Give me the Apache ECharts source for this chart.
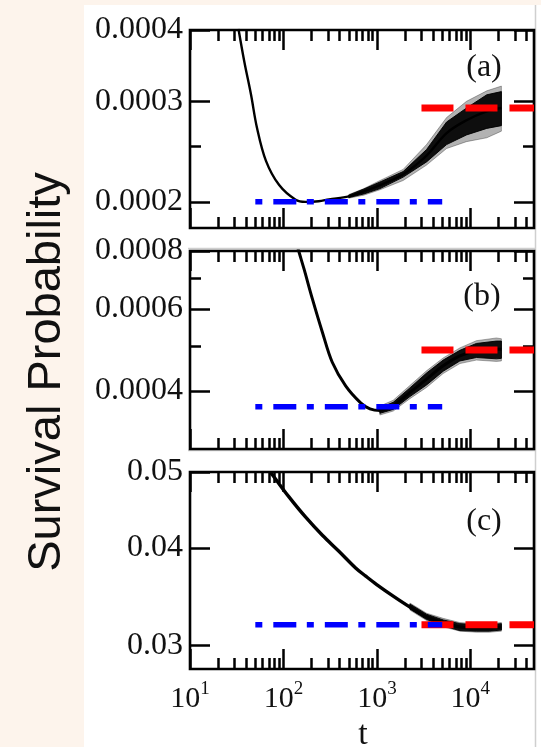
<!DOCTYPE html>
<html>
<head>
<meta charset="utf-8">
<script src="https://cdn.jsdelivr.net/npm/echarts@6/dist/echarts.min.js"></script>
<style>
  html, body { margin: 0; padding: 0; background: #fdf4ec; }
  #chart { width: 541px; height: 747px; }
</style>
</head>
<body>
<div id="chart"></div>
<script>
// ---- shared time axis ----
const X_MIN = 10, X_MAX = 48000;
const xMajorTicks = [10, 100, 1000, 10000];
const xMinorTicks = [20, 30, 40, 50, 60, 70, 80, 90,
  200, 300, 400, 500, 600, 700, 800, 900,
  2000, 3000, 4000, 5000, 6000, 7000, 8000, 9000,
  20000, 30000, 40000];

// ---- panel (a) ----
const yRangeA = [0.00018, 0.0004];
const yMajorA = [0.0002, 0.0003, 0.0004];
const yMinorA = [0.00025];
const tA   = [33, 38, 45, 52, 65, 90, 135, 172, 238, 307, 500, 725, 1080, 1910, 3400, 5570, 9100, 15000, 21500];
const midA = [0.000402, 0.000353, 0.000308, 0.00027, 0.000236, 0.000214, 0.0002017, 0.0002, 0.0002005, 0.000202,
              0.0002045, 0.0002087, 0.000214, 0.0002235, 0.000241, 0.000264, 0.000278, 0.000288, 0.000292];
const bandTA   = [500, 725, 1080, 1910, 3400, 5570, 9100, 15000, 21500];
const coreLoA  = [0.0002035, 0.0002065, 0.000211, 0.000221, 0.000235, 0.000252, 0.000262, 0.000269, 0.000272];
const coreHiA  = [0.0002055, 0.0002106, 0.0002167, 0.000226, 0.000247, 0.000276, 0.000292, 0.000308, 0.000312];
const cloudLoA = [0.000203, 0.0002055, 0.00021, 0.000218, 0.000232, 0.000248, 0.000255, 0.000259, 0.000266];
const cloudHiA = [0.000206, 0.000211, 0.000218, 0.000228, 0.000252, 0.000281, 0.0003, 0.000313, 0.000319];
const redA = 0.000292, blueA = 0.0002;

// ---- panel (b) ----
const yRangeB = [0.0003, 0.0008];
const yMajorB = [0.0004, 0.0006, 0.0008];
const yMinorB = [0.0005, 0.0007];
const tB   = [140, 147, 166, 204, 261, 333, 463, 670, 843, 1076, 1495, 2256, 3400, 5120, 7720, 11600, 19000, 21500];
const midB = [0.000823, 0.000795, 0.000732, 0.000631, 0.000535, 0.000461, 0.00041, 0.000377, 0.000366, 0.000363,
              0.000372, 0.000397, 0.000424, 0.000453, 0.000476, 0.000488, 0.000492, 0.000492];
const bandTB   = [1076, 1495, 2256, 3400, 5120, 7720, 11600, 19000, 21500];
const coreLoB  = [0.000358, 0.000365, 0.000389, 0.000412, 0.000441, 0.000464, 0.000472, 0.000469, 0.00047];
const coreHiB  = [0.000368, 0.000378, 0.000406, 0.000437, 0.000466, 0.000489, 0.000506, 0.000512, 0.000512];
const cloudLoB = [0.000355, 0.000362, 0.000385, 0.000407, 0.000436, 0.000458, 0.000466, 0.000463, 0.000464];
const cloudHiB = [0.000371, 0.000382, 0.000411, 0.000442, 0.000471, 0.000495, 0.000513, 0.00052, 0.000518];
const redB = 0.00049, blueB = 0.00037;

// ---- panel (c) ----
const yRangeC = [0.028, 0.05];
const yMajorC = [0.03, 0.04, 0.05];
const yMinorC = [];
const tC   = [72, 79, 114, 172, 261, 392, 592, 760, 995, 1495, 2256, 3400, 5120, 7720, 11600, 16000, 21500];
const midC = [0.0500, 0.0493, 0.0465, 0.0438, 0.0415, 0.0396, 0.0377, 0.0368, 0.0359, 0.0347, 0.0336,
              0.03266, 0.0321, 0.0317, 0.0316, 0.0316, 0.0317];
const bandTC   = [2256, 3400, 5120, 7720, 11600, 16000, 21500];
const coreLoC  = [0.0334, 0.0324, 0.0318, 0.03135, 0.0313, 0.0313, 0.0314];
const coreHiC  = [0.0339, 0.0329, 0.03235, 0.032, 0.0319, 0.0319, 0.032];
const cloudLoC = [0.0333, 0.0323, 0.0317, 0.0313, 0.0312, 0.0312, 0.0313];
const cloudHiC = [0.034, 0.033, 0.0325, 0.0321, 0.032, 0.032, 0.0321];
const redC = 0.0319, blueC = 0.0319;

// horizontal reference lines: time spans
const redSpan  = [3000, X_MAX];
const blueSpan = [50, 5000];

const panelTags = ['(a)', '(b)', '(c)'];

const panels = [
  { t: tA, mid: midA, bt: bandTA, lo: coreLoA, hi: coreHiA, olo: cloudLoA, ohi: cloudHiA,
    red: redA, blue: blueA, range: yRangeA, major: yMajorA, minor: yMinorA, dec: 4, lw: 2.4 },
  { t: tB, mid: midB, bt: bandTB, lo: coreLoB, hi: coreHiB, olo: cloudLoB, ohi: cloudHiB,
    red: redB, blue: blueB, range: yRangeB, major: yMajorB, minor: yMinorB, dec: 4, lw: 3 },
  { t: tC, mid: midC, bt: bandTC, lo: coreLoC, hi: coreHiC, olo: cloudLoC, ohi: cloudHiC,
    red: redC, blue: blueC, range: yRangeC, major: yMajorC, minor: yMinorC, dec: 2, lw: 3.4 }
];

// ---- layout ----
const GRID_LEFT = 190, GRID_WIDTH = 344;
const gridTops = [30, 251, 472];
const gridHeights = [198, 198, 197];
const MAJOR_LEN = 20, MINOR_LEN = 11, TICK_W = 2.5;
const SERIF = '"Liberation Serif", "DejaVu Serif", serif';
const INK = '#111';

const zip = (a, b) => a.map((v, i) => [v, b[i]]);

function tickAxis(base, position, values, len) {
  return Object.assign({}, base, {
    position: position,
    axisLine: { show: false },
    splitLine: { show: false },
    axisLabel: { show: false },
    axisTick: {
      show: values.length > 0, inside: true, length: len,
      customValues: values.length ? values : undefined,
      lineStyle: { color: '#000', width: TICK_W }
    }
  });
}

// Filled region between a lower and an upper envelope, placed through the axes.
function bandSeries(gi, tArr, loArr, hiArr, fill) {
  return {
    type: 'custom', xAxisIndex: gi * 4, yAxisIndex: gi * 4, silent: true, clip: true,
    data: tArr.map((t, i) => [t, loArr[i], hiArr[i]]),
    encode: { x: 0, y: [1, 2] },
    renderItem: function (params, api) {
      if (params.dataIndex !== 0) return null;
      const pts = [];
      for (let i = 0; i < tArr.length; i++) pts.push(api.coord([tArr[i], loArr[i]]));
      for (let i = tArr.length - 1; i >= 0; i--) pts.push(api.coord([tArr[i], hiArr[i]]));
      return { type: 'polygon', shape: { points: pts }, style: { fill: fill, stroke: fill, lineWidth: 1 } };
    }
  };
}

const grids = [], xAxes = [], yAxes = [], series = [];

panels.forEach((p, gi) => {
  grids.push({
    left: GRID_LEFT, top: gridTops[gi], width: GRID_WIDTH, height: gridHeights[gi],
    show: true, borderColor: '#000', borderWidth: 2.6, backgroundColor: 'transparent',
    outerBoundsMode: 'none', containLabel: false
  });

  const xb = { type: 'log', logBase: 10, min: X_MIN, max: X_MAX, gridIndex: gi };
  const xMain = tickAxis(xb, 'bottom', xMajorTicks, MAJOR_LEN);
  if (gi === 2) {
    xMain.axisLabel = {
      show: true, customValues: xMajorTicks, margin: 11,
      formatter: v => '10{s|' + Math.round(Math.log10(v)) + '}',
      fontFamily: SERIF, fontSize: 30, color: INK,
      rich: { s: { fontFamily: SERIF, fontSize: 19, color: INK, padding: [0, 0, 20, 0] } }
    };
  }
  xAxes.push(xMain,
    tickAxis(xb, 'bottom', xMinorTicks, MINOR_LEN),
    tickAxis(xb, 'top', xMajorTicks, MAJOR_LEN),
    tickAxis(xb, 'top', xMinorTicks, MINOR_LEN));

  const yb = { type: 'log', logBase: 10, min: p.range[0], max: p.range[1], gridIndex: gi };
  const yMain = tickAxis(yb, 'left', p.major, MAJOR_LEN);
  yMain.axisLabel = {
    show: true, customValues: p.major, margin: 7,
    formatter: v => v.toFixed(p.dec),
    fontFamily: SERIF, fontSize: 32, color: INK
  };
  yAxes.push(yMain,
    tickAxis(yb, 'left', p.minor, MINOR_LEN),
    tickAxis(yb, 'right', p.major, MAJOR_LEN),
    tickAxis(yb, 'right', p.minor, MINOR_LEN));

  const ax = { xAxisIndex: gi * 4, yAxisIndex: gi * 4, symbol: 'none', silent: true, animation: false };

  // scattered cloud: faint outer spread, then the dense core
  series.push(bandSeries(gi, p.bt, p.olo, p.ohi, 'rgba(0,0,0,0.3)'));
  series.push(bandSeries(gi, p.bt, p.lo, p.hi, 'rgba(0,0,0,0.92)'));

  // survival probability curve
  series.push(Object.assign({ type: 'line', data: zip(p.t, p.mid), smooth: 0.35,
    lineStyle: { color: '#000', width: p.lw } }, ax));

  // long-time plateau (red dashed)
  series.push(Object.assign({ type: 'line', data: [[redSpan[0], p.red], [redSpan[1], p.red]],
    lineStyle: { color: '#ff0000', width: 7, type: [32, 12], cap: 'butt' } }, ax));

  // minimum level (blue dash-dot)
  series.push(Object.assign({ type: 'line', data: [[blueSpan[0], p.blue], [blueSpan[1], p.blue]],
    lineStyle: { color: '#0000ff', width: 5.5, type: [7, 11, 23, 10.5], cap: 'butt' } }, ax));
});

const tagPos = [[484, 68], [482, 297], [484, 522]];

const graphic = [
  { type: 'rect', z: -100, silent: true, shape: { x: 84, y: 5, width: 457, height: 742 }, style: { fill: '#ffffff' } },
  { type: 'line', z: -90, silent: true, shape: { x1: 535.5, y1: 5, x2: 535.5, y2: 747 }, style: { stroke: '#cfcfcf', lineWidth: 1.5 } },
  { type: 'line', z: -90, silent: true, shape: { x1: 188, y1: 248.5, x2: 536, y2: 248.5 }, style: { stroke: '#cfcfcf', lineWidth: 1.5 } },
  { type: 'line', z: -90, silent: true, shape: { x1: 188, y1: 450.5, x2: 536, y2: 450.5 }, style: { stroke: '#cfcfcf', lineWidth: 1.5 } },
  { type: 'text', z: 100, silent: true, x: 47, y: 372, rotation: Math.PI / 2,
    style: { text: 'Survival Probability', font: '47px "Liberation Sans", Arial, sans-serif', fill: '#111',
             textAlign: 'center', textVerticalAlign: 'middle' } },
  { type: 'text', z: 100, silent: true, x: 363, y: 735,
    style: { text: 't', font: '34px ' + SERIF, fill: INK, textAlign: 'center', textVerticalAlign: 'middle' } }
].concat(panelTags.map((s, i) => ({
  type: 'text', z: 100, silent: true, x: tagPos[i][0], y: tagPos[i][1],
  style: { text: s, font: '32px ' + SERIF, fill: INK, textAlign: 'center', textVerticalAlign: 'middle' }
})));

const chart = echarts.init(document.getElementById('chart'), null, { renderer: 'canvas' });
chart.setOption({
  animation: false,
  backgroundColor: '#fdf4ec',
  grid: grids,
  xAxis: xAxes,
  yAxis: yAxes,
  series: series,
  graphic: graphic
});
</script>
</body>
</html>
